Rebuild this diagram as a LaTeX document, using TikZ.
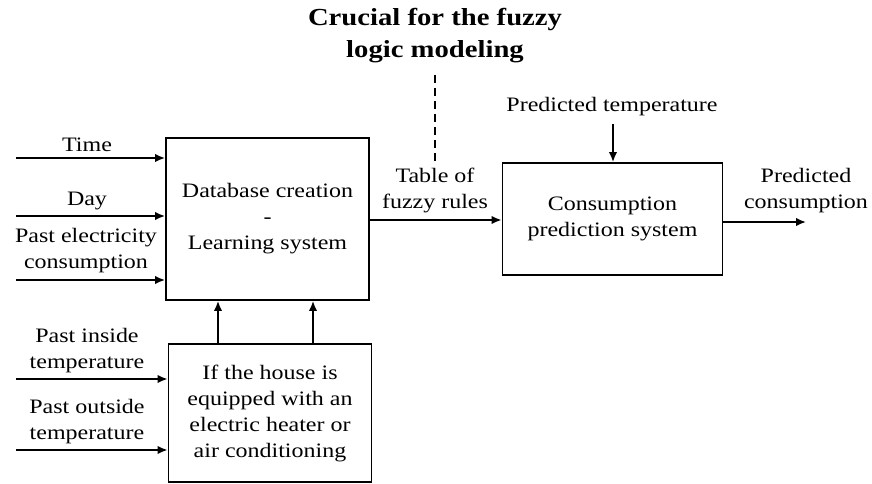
\documentclass[tikz,border=0pt]{standalone}
\usepackage{fontspec}
\setmainfont{Liberation Serif}[FakeStretch=1.17]
\usetikzlibrary{arrows.meta}
\begin{document}
\begin{tikzpicture}[x=1pt,y=-1pt,
  blk/.style={draw,line width=1.8pt,inner sep=0pt,align=center,
    font=\fontsize{20.5}{26}\selectfont},
  lbl/.style={inner sep=0pt,align=center,font=\fontsize{20.5}{26}\selectfont},
  ttl/.style={inner sep=0pt,align=center,font=\fontsize{24.5}{32}\selectfont\bfseries},
  flow/.style={line width=1.8pt,-{Latex[length=10pt,width=8.5pt]}}]
\useasboundingbox (0,0) rectangle (872,484);

% processing blocks
\node[blk,minimum width=203pt,minimum height=162pt] (db) at (267.5,219)
  {Database creation\\-\\Learning system};
\node[blk,minimum width=203pt,minimum height=138pt] (house) at (270,413)
  {If the house is\\equipped with an\\electric heater or\\air conditioning};
\node[blk,minimum width=220pt,minimum height=112pt] (cons) at (612.5,219)
  {Consumption\\prediction system};

% inputs on the left
\coordinate (inTime) at (16,158);
\coordinate (inDay) at (16,216);
\coordinate (inElec) at (16,280);
\coordinate (inIn) at (16,379);
\coordinate (inOut) at (16,450);
\node[lbl] (lTime) at (87,145) {Time};
\node[lbl] (lDay) at (87,201) {Day};
\node[lbl] (lElec) at (86,251) {Past electricity\\consumption};
\node[lbl] (lIn) at (87,351) {Past inside\\temperature};
\node[lbl] (lOut) at (87,422) {Past outside\\temperature};
\draw[flow] (inTime) -- (inTime -| db.west);
\draw[flow] (inDay) -- (inDay -| db.west);
\draw[flow] (inElec) -- (inElec -| db.west);
\draw[flow] (inIn) -- (inIn -| house.west);
\draw[flow] (inOut) -- (inOut -| house.west);

% house block feeding the learning system
\coordinate (up1) at (218,344);
\coordinate (up2) at (313,344);
\draw[flow] (up1) -- (up1 |- db.south);
\draw[flow] (up2) -- (up2 |- db.south);

% fuzzy rules table
\coordinate (rules) at (369,220);
\draw[flow] (rules) -- (rules -| cons.west);
\node[lbl] (lRules) at (435,190) {Table of\\fuzzy rules};
\node[ttl] (title) at (435,36) {Crucial for the fuzzy\\logic modeling};
\coordinate (dashTop) at (435,75);
\coordinate (dashBot) at (435,162);
\draw[line width=2.4pt,dash pattern=on 8pt off 5pt] (dashTop) -- (dashBot);

% prediction side
\node[lbl] (lTemp) at (612,107) {Predicted temperature};
\coordinate (tempIn) at (613,124);
\draw[flow] (tempIn) -- (tempIn |- cons.north);
\coordinate (outEnd) at (806,222);
\draw[flow] (cons.east |- outEnd) -- (outEnd);
\node[lbl] (lOutC) at (806,191) {Predicted\\consumption};
\end{tikzpicture}
\end{document}
